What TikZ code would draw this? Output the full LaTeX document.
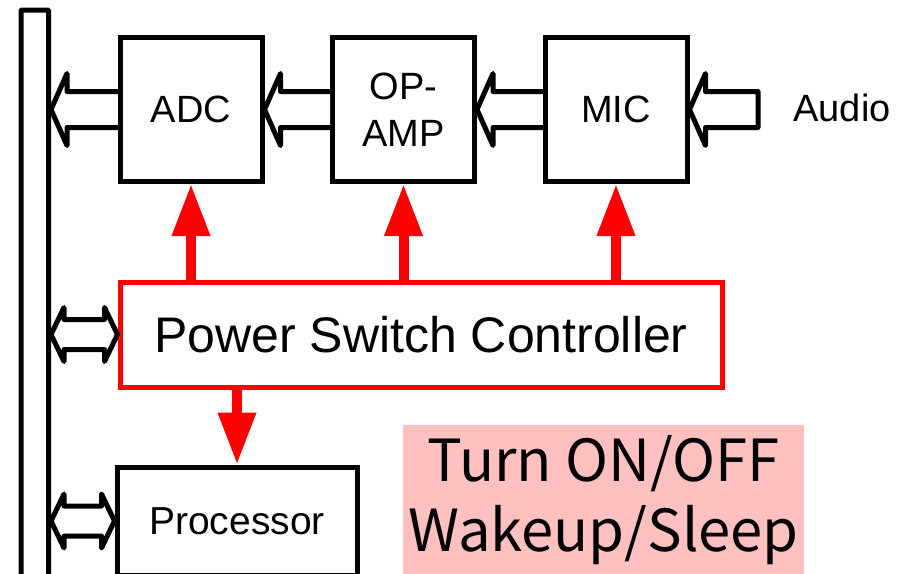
\documentclass[tikz,border=0pt]{standalone}
\usepackage{fontspec}
\setmainfont{Liberation Sans}
\newfontfamily\jpfont{Noto Sans CJK JP}
\usepackage{xcolor}
\usetikzlibrary{arrows.meta,calc}

\definecolor{notepink}{RGB}{255,192,192}

% outlined block arrow pointing left, #2 tail, #3 tip
\newcommand{\fatarrow}[3][]{%
  \draw[hollow] ($(#2)+(0,-18)$) -- ($(#3)+(16,-18)$) -- ($(#3)+(16,-36)$) -- (#3)
    -- ($(#3)+(16,36)$) -- ($(#3)+(16,18)$) -- ($(#2)+(0,18)$) #1;}
% outlined two-headed arrow, #1 left tip, #2 right tip
\newcommand{\dualarrow}[2]{%
  \draw[hollow] (#1) -- ($(#1)+(13,-27)$) -- ($(#1)+(13,-15)$) -- ($(#2)+(-13,-15)$)
    -- ($(#2)+(-13,-27)$) -- (#2) -- ($(#2)+(-13,27)$) -- ($(#2)+(-13,15)$)
    -- ($(#1)+(13,15)$) -- ($(#1)+(13,27)$) -- cycle;}

\begin{document}
\begin{tikzpicture}[
  x=1pt,y=-1pt,
  box/.style={draw,line width=5pt,fill=white,minimum width=142pt,minimum height=144pt,inner sep=0pt,align=center,font=\fontsize{38}{47}\selectfont},
  ctrl/.style={draw=red,line width=5pt,fill=white,minimum width=602pt,minimum height=105pt,inner sep=0pt,font=\fontsize{50}{58}\selectfont},
  bus/.style={draw,line width=5pt,fill=white,rounded corners=1pt,minimum width=27.5pt,minimum height=590pt},
  note/.style={fill=notepink,minimum width=401pt,minimum height=150pt,inner sep=0pt,align=center,font=\jpfont\fontsize{58}{70}\selectfont},
  hollow/.style={line width=5pt,line join=round,line cap=round,fill=white},
  power/.style={draw=red,line width=10pt,-{Triangle[length=52pt,width=36pt,fill=red]}}
]
\useasboundingbox (0,0) rectangle (909,573);
\node[bus] (bus) at (34.75,305) {};
\node[box] (adc) at (191,109.5) {ADC};
\node[box] (opamp) at (403.5,109.5) {OP-\\AMP};
\node[box] (mic) at (616,109.5) {MIC};
\node[font=\fontsize{38}{47}\selectfont] (audio) at (842,108) {Audio};
\coordinate (src) at (758,109.5);
\node[ctrl] (ctrl) at (421,334.5) {Power Switch Controller};
\node[box,minimum width=240pt,minimum height=108pt,font=\fontsize{39}{47}\selectfont] (cpu) at (237,521) {Processor};
\node[note] (note) at (603.5,500) {Turn ON/OFF\\Wakeup/Sleep};
\coordinate (adcbus) at (bus.east |- adc.west);
\coordinate (ctrlbus) at (bus.east |- ctrl.west);
\coordinate (cpubus) at (bus.east |- cpu.west);
% data path
\fatarrow[-- cycle]{src}{mic.east}
\fatarrow{mic.west}{opamp.east}
\fatarrow{opamp.west}{adc.east}
\fatarrow{adc.west}{adcbus}
\dualarrow{ctrlbus}{ctrl.west}
\dualarrow{cpubus}{cpu.west}
% power control
\draw[power] (ctrl.north -| adc) -- (adc.south);
\draw[power] (ctrl.north -| opamp) -- (opamp.south);
\draw[power] (ctrl.north -| mic) -- (mic.south);
\draw[power] (ctrl.south -| cpu) -- (cpu.north);
\end{tikzpicture}
\end{document}
